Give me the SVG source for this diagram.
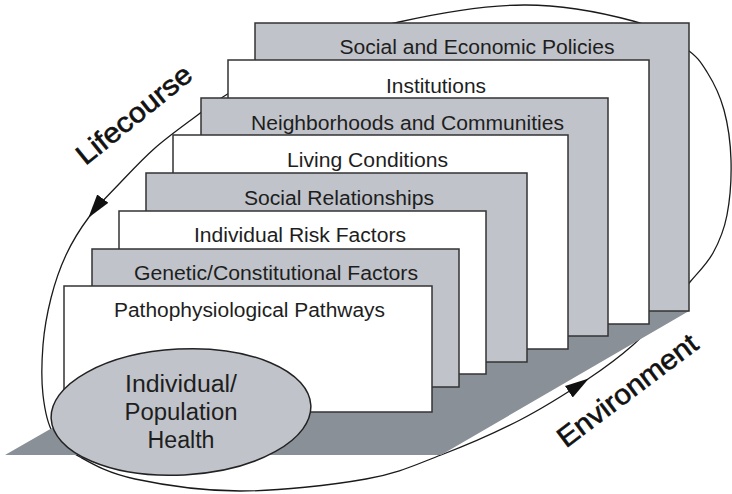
<svg xmlns="http://www.w3.org/2000/svg" width="732" height="494" viewBox="0 0 732 494">
<defs>
<style>
.box{stroke:#333;stroke-width:1.5}
.g{fill:#c0c3c9}
.w{fill:#fff}
.lbl{font-family:"Liberation Sans",Arial,Helvetica,sans-serif;font-size:19.5px;fill:#1e1e1e;text-anchor:middle}
.eh{font-family:"Liberation Sans",Arial,Helvetica,sans-serif;font-size:23.5px;fill:#1e1e1e;text-anchor:middle}
.loop{fill:none;stroke:#1a1a1a;stroke-width:1.3}
.big{font-family:"Liberation Sans",Arial,Helvetica,sans-serif;font-size:28px;fill:#111;stroke:#111;stroke-width:0.6;text-anchor:middle}
</style>
<marker id="arr" markerUnits="userSpaceOnUse" markerWidth="24" markerHeight="16" viewBox="0 0 24 16" refX="23" refY="8" orient="auto"><path d="M0,1 L24,8 L0,15 z" fill="#111"/></marker>
</defs>
<rect width="732" height="494" fill="#fff"/>
<g id="connectors">
<path class="loop" marker-end="url(#arr)" d="M588,379 C606.8,366.5 620.3,356.2 633,345 C645.7,333.8 654.5,322.5 664,312 C673.5,301.5 681.8,291.8 690,282 C698.2,272.2 706.8,264.2 713,253 C719.2,241.8 724,230.5 727,215 C730,199.5 731.5,177.5 731,160 C730.5,142.5 728,124.7 724,110 C720,95.3 713.5,82.3 707,72 C700.5,61.7 697.3,56.5 685,48 C672.7,39.5 659.8,28.2 633,21 C606.2,13.8 563,4.8 524,5 C485,5.2 436.3,13.7 399,22 C361.7,30.3 328.8,42.8 300,55 C271.2,67.2 243.5,84.7 226,95 C208.5,105.3 206.8,108.2 195,117 C183.2,125.8 167.5,137 155,148 C142.5,159 131,171.5 120,183 C109,194.5 98,205 89,217"/>
<path class="loop" marker-end="url(#arr)" d="M89,217 C80,229 72.3,241.5 66,255 C59.7,268.5 54.8,283 51,298 C47.2,313 44.3,328.8 43,345 C41.7,361.2 41.3,380.3 43,395 C44.7,409.7 46.8,422.7 53,433 C59.2,443.3 66.3,449.3 80,457 C93.7,464.7 108.3,473.3 135,479 C161.7,484.7 201.5,491 240,491 C278.5,491 332.5,485 366,479 C399.5,473 415.3,464.8 441,455 C466.7,445.2 495.5,432.7 520,420 C544.5,407.3 569.2,391.5 588,379"/>
</g>
<polygon id="ground" points="5,455 80,412 80,300 689,300 689,311 441,455" fill="#8a9097"/>
<g id="n1"><rect class="box g" x="255" y="23" width="434" height="288"/><text class="lbl" x="477" y="54" textLength="275" lengthAdjust="spacingAndGlyphs">Social and Economic Policies</text></g>
<g id="n2"><rect class="box w" x="228" y="60" width="421" height="264"/><text class="lbl" x="436" y="92.5" textLength="100" lengthAdjust="spacingAndGlyphs">Institutions</text></g>
<g id="n3"><rect class="box g" x="201" y="98" width="407" height="238"/><text class="lbl" x="407.5" y="130" textLength="313" lengthAdjust="spacingAndGlyphs">Neighborhoods and Communities</text></g>
<g id="n4"><rect class="box w" x="173" y="135" width="395" height="214"/><text class="lbl" x="367.5" y="167" textLength="161" lengthAdjust="spacingAndGlyphs">Living Conditions</text></g>
<g id="n5"><rect class="box g" x="146" y="173" width="381" height="189"/><text class="lbl" x="339" y="204.5" textLength="190" lengthAdjust="spacingAndGlyphs">Social Relationships</text></g>
<g id="n6"><rect class="box w" x="119" y="211" width="367" height="163"/><text class="lbl" x="300" y="242" textLength="212" lengthAdjust="spacingAndGlyphs">Individual Risk Factors</text></g>
<g id="n7"><rect class="box g" x="92" y="249" width="367" height="138"/><text class="lbl" x="276" y="279.5" textLength="284" lengthAdjust="spacingAndGlyphs">Genetic/Constitutional Factors</text></g>
<g id="n8"><rect class="box w" x="64" y="286" width="368" height="126"/><text class="lbl" x="249.5" y="317" textLength="271" lengthAdjust="spacingAndGlyphs">Pathophysiological Pathways</text></g>
<g id="health"><ellipse cx="181" cy="412" rx="130" ry="63" transform="rotate(-3 181 412)" fill="#c0c3c9" stroke="#222" stroke-width="1.5"/>
<text class="eh" x="181" y="392" textLength="112" lengthAdjust="spacingAndGlyphs">Individual/</text>
<text class="eh" x="181" y="420" textLength="113" lengthAdjust="spacingAndGlyphs">Population</text>
<text class="eh" x="181" y="448" textLength="67" lengthAdjust="spacingAndGlyphs">Health</text></g>
<text id="lifecourse" class="big" transform="translate(140 122) rotate(-39)" textLength="140" lengthAdjust="spacingAndGlyphs">Lifecourse</text>
<text id="environment" class="big" transform="translate(633 398) rotate(-37)" textLength="168" lengthAdjust="spacingAndGlyphs">Environment</text>
</svg>
